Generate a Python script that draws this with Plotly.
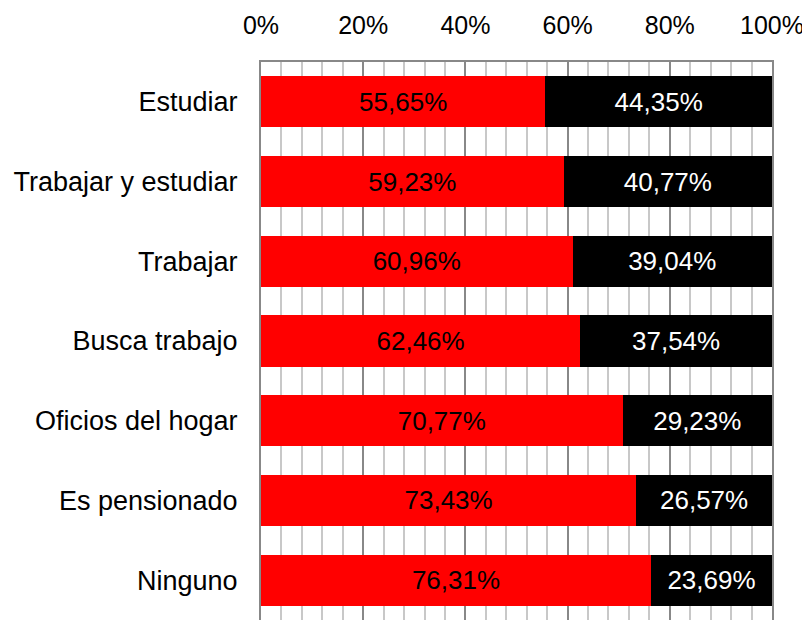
import plotly.graph_objects as go

categories = ["Estudiar", "Trabajar y estudiar", "Trabajar", "Busca trabajo",
              "Oficios del hogar", "Es pensionado", "Ninguno"]
red_values = [55.65, 59.23, 60.96, 62.46, 70.77, 73.43, 76.31]
black_values = [44.35, 40.77, 39.04, 37.54, 29.23, 26.57, 23.69]

def fmt(v):
    return f"{v:.2f}".replace(".", ",") + "%"

fig = go.Figure()
fig.add_trace(go.Bar(
    y=categories, x=[v / 100 for v in red_values], orientation="h",
    marker=dict(color="#ff0000", line=dict(width=0)),
    text=[fmt(v) for v in red_values], textposition="inside",
    insidetextanchor="middle", textfont=dict(color="black", size=26),
    width=0.64, hoverinfo="skip"))
fig.add_trace(go.Bar(
    y=categories, x=[v / 100 for v in black_values], orientation="h",
    marker=dict(color="#000000", line=dict(width=0)),
    text=[fmt(v) for v in black_values], textposition="inside",
    insidetextanchor="middle", textfont=dict(color="white", size=26),
    width=0.64, hoverinfo="skip"))

fig.update_layout(
    width=802, height=612,
    margin=dict(l=253, r=38, t=54, b=0, autoexpand=False),
    barmode="stack", showlegend=False,
    plot_bgcolor="white", paper_bgcolor="white",
    font=dict(family="Liberation Sans, Arial, sans-serif", size=26, color="black"),
    uniformtext=dict(mode=False),
)
fig.update_xaxes(
    range=[0, 1], side="top", tickformat=".0%", dtick=0.2, tick0=0,
    showgrid=True, gridcolor="#888888", gridwidth=2,
    minor=dict(dtick=0.04, tick0=0, showgrid=True, gridcolor="#c8c8c8", gridwidth=2),
    showline=True, linecolor="#888888", linewidth=2, mirror=True,
    ticks="", ticklabelstandoff=16, zeroline=False, automargin=False,
    tickfont=dict(size=25))
fig.update_yaxes(
    autorange="reversed", showline=True, linecolor="#888888", linewidth=2,
    mirror=True, ticks="", ticklabelstandoff=16, showgrid=False, automargin=False,
    tickfont=dict(size=27))

fig.write_html("out.html")
